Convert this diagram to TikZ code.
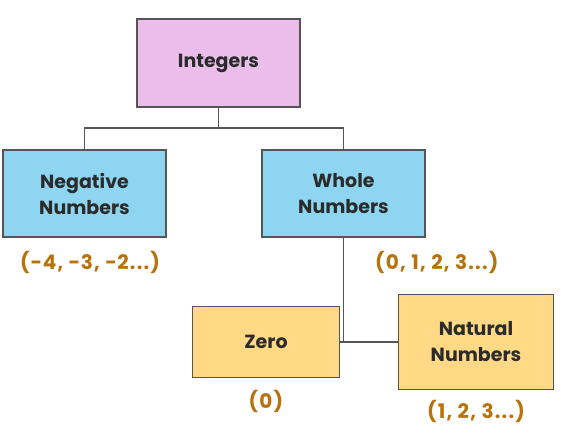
\documentclass[tikz,border=0pt]{standalone}
\usepackage{fontspec}
\setmainfont{Poppins}
\definecolor{pinkfill}{HTML}{EBBDEB}
\definecolor{bluefill}{HTML}{8DD5F0}
\definecolor{yellowfill}{HTML}{FFD985}
\definecolor{edgegray}{HTML}{555555}
\definecolor{labelbrown}{HTML}{B8720B}
\definecolor{textdark}{HTML}{2B2B2B}
\begin{document}
\begin{tikzpicture}[x=1pt,y=-1pt,
  box/.style={draw=edgegray,line width=1.5pt,rectangle,inner sep=0pt,align=center,
    font=\fontsize{19}{26}\selectfont\bfseries,text=textdark},
  link/.style={draw=edgegray,line width=1.4pt},
  vals/.style={font=\fontsize{20}{24}\selectfont\bfseries\addfontfeature{LetterSpace=6},text=labelbrown,inner sep=0pt}]
\useasboundingbox (0,0) rectangle (561,432);
\node[box,fill=pinkfill,minimum width=163pt,minimum height=88pt] (int) at (218.5,63) {Integers};
\node[box,fill=bluefill,minimum width=163pt,minimum height=87pt] (neg) at (84.5,193.5) {Negative\\Numbers};
\node[box,fill=bluefill,minimum width=163pt,minimum height=87pt] (whole) at (343.5,193.5) {Whole\\Numbers};
\node[box,fill=yellowfill,minimum width=147pt,minimum height=71pt] (zero) at (266,342) {Zero};
\node[box,fill=yellowfill,minimum width=155pt,minimum height=95pt] (nat) at (476,342) {Natural\\Numbers};
\node[vals] (negv) at (90,262) {(−4, −3, −2...)};
\node[vals,anchor=west] (wholev) at (375,262) {(0, 1, 2, 3...)};
\node[vals] (zerov) at (266,401) {(0)};
\node[vals] (natv) at (476,411) {(1, 2, 3...)};
\coordinate (j1) at (218.5,128);
\coordinate (j2) at (343.5,342);
\draw[link] (int.south) -- (j1);
\draw[link] (neg.north) |- (j1) -| (whole.north);
\draw[link] (whole.south) -- (j2);
\draw[link] (zero.east) -- (j2) -- (nat.west);
\end{tikzpicture}
\end{document}
